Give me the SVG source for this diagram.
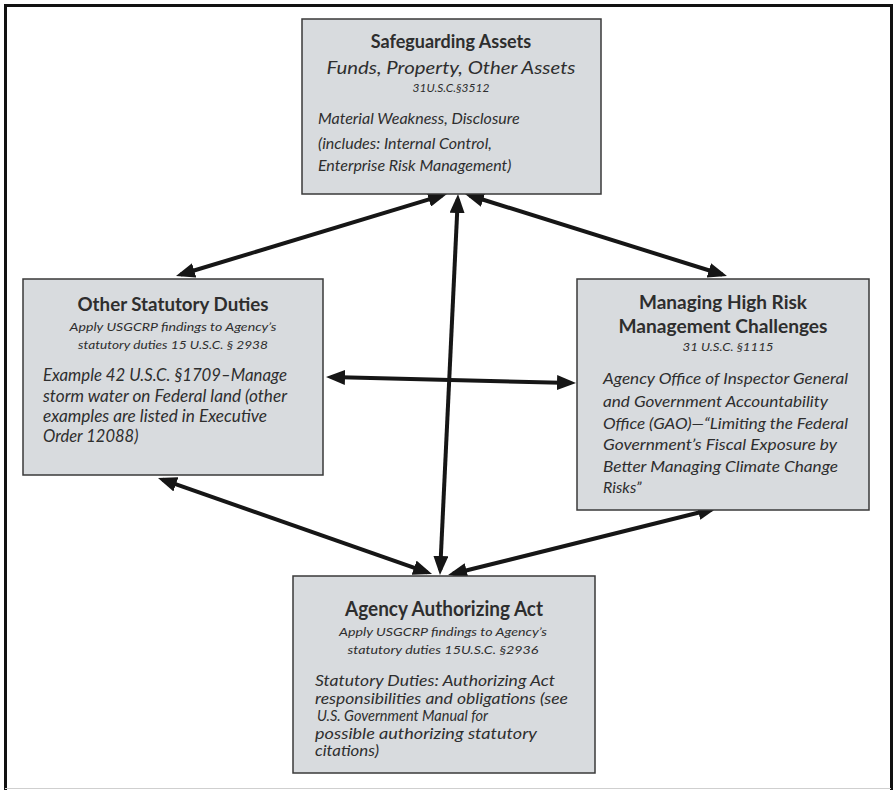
<svg xmlns="http://www.w3.org/2000/svg" width="893" height="790" viewBox="0 0 893 790">
<style>
.box{fill:#d8dbde;stroke:#3a3a3a;stroke-width:1.5}
.t{font-family:Lato,"Liberation Sans",sans-serif;fill:#2e2e2e}
.h{font-weight:bold;font-size:18px;text-anchor:middle}
.s{font-style:italic;font-size:12px;text-anchor:middle}
.b{font-style:italic;font-size:16px}
.b17{font-style:italic;font-size:16.5px}
.b15{font-style:italic;font-size:14.5px}
.sub{font-style:italic;font-size:18px;text-anchor:middle}
.a{stroke:#161616;stroke-width:4;fill:none;marker-start:url(#ah);marker-end:url(#ah)}
</style>
<defs>
<marker id="ah" markerUnits="userSpaceOnUse" markerWidth="19" markerHeight="15" refX="14" refY="7.5" orient="auto-start-reverse">
<path d="M0,0 L19,7.5 L0,15 z" fill="#161616"/>
</marker>
</defs>
<rect width="893" height="790" fill="#fff"/>
<g id="frame" fill="none">
<path d="M5.5,790 V5.5 H891.5 V790" stroke="#111" stroke-width="3"/>
<line x1="5" y1="788.5" x2="891" y2="788.5" stroke="#cfcfcf" stroke-width="1"/>
</g>
<g id="connectors">
<line class="a" x1="442.2" y1="195.4" x2="180.8" y2="274.5"/>
<line class="a" x1="469.8" y1="195.5" x2="722.2" y2="274.5"/>
<line class="a" x1="457.8" y1="199" x2="440.2" y2="570"/>
<line class="a" x1="331" y1="377.1" x2="571" y2="382.9"/>
<line class="a" x1="162.7" y1="479.7" x2="427.3" y2="572.3"/>
<line class="a" x1="452.9" y1="573.8" x2="712.1" y2="509.2"/>
</g>
<g id="safeguarding">
<rect class="box" x="302" y="19" width="299" height="175"/>
<text class="t h" x="451" y="48">Safeguarding Assets</text>
<text class="t sub" x="451" y="74" textLength="249" lengthAdjust="spacingAndGlyphs">Funds, Property, Other Assets</text>
<text class="t s" x="451" y="92">31U.S.C.§3512</text>
<text class="t b" x="318" y="124">Material Weakness, Disclosure</text>
<text class="t b" x="318" y="149">(includes: Internal Control,</text>
<text class="t b" x="318" y="171">Enterprise Risk Management)</text>
</g>
<g id="other-duties">
<rect class="box" x="23" y="279" width="300" height="196"/>
<text class="t h" x="173" y="311" textLength="191" lengthAdjust="spacingAndGlyphs">Other Statutory Duties</text>
<text class="t s" x="173" y="331" textLength="207" lengthAdjust="spacingAndGlyphs">Apply USGCRP findings to Agency’s</text>
<text class="t s" x="173" y="349" textLength="190" lengthAdjust="spacingAndGlyphs">statutory duties 15 U.S.C. § 2938</text>
<text class="t b17" x="43" y="381" textLength="244" lengthAdjust="spacingAndGlyphs">Example 42 U.S.C. §1709–Manage</text>
<text class="t b17" x="43" y="402" textLength="244" lengthAdjust="spacingAndGlyphs">storm water on Federal land (other</text>
<text class="t b17" x="43" y="422" textLength="224" lengthAdjust="spacingAndGlyphs">examples are listed in Executive</text>
<text class="t b17" x="43" y="442">Order 12088)</text>
</g>
<g id="high-risk">
<rect class="box" x="577" y="279" width="292" height="231"/>
<text class="t h" x="723" y="309" textLength="168" lengthAdjust="spacingAndGlyphs">Managing High Risk</text>
<text class="t h" x="723" y="333" textLength="209" lengthAdjust="spacingAndGlyphs">Management Challenges</text>
<text class="t s" x="728" y="351" textLength="91" lengthAdjust="spacingAndGlyphs">31 U.S.C. §1115</text>
<text class="t b" x="603" y="384" textLength="245" lengthAdjust="spacingAndGlyphs">Agency Office of Inspector General</text>
<text class="t b" x="603" y="407" textLength="225" lengthAdjust="spacingAndGlyphs">and Government Accountability</text>
<text class="t b" x="603" y="429" textLength="245" lengthAdjust="spacingAndGlyphs">Office (GAO)—“Limiting the Federal</text>
<text class="t b" x="603" y="450" textLength="234" lengthAdjust="spacingAndGlyphs">Government’s Fiscal Exposure by</text>
<text class="t b" x="603" y="472" textLength="235" lengthAdjust="spacingAndGlyphs">Better Managing Climate Change</text>
<text class="t b" x="603" y="493">Risks”</text>
</g>
<g id="authorizing-act">
<rect class="box" x="293" y="576" width="302" height="197"/>
<text class="t h" x="444" y="616" style="font-size:20px" textLength="198" lengthAdjust="spacingAndGlyphs">Agency Authorizing Act</text>
<text class="t s" x="443" y="636" textLength="208" lengthAdjust="spacingAndGlyphs">Apply USGCRP findings to Agency’s</text>
<text class="t s" x="443" y="654" textLength="191" lengthAdjust="spacingAndGlyphs">statutory duties 15U.S.C. §2936</text>
<text class="t b15" x="315" y="686" textLength="240" lengthAdjust="spacingAndGlyphs">Statutory Duties:  Authorizing Act</text>
<text class="t b15" x="315" y="703.5" textLength="253" lengthAdjust="spacingAndGlyphs">responsibilities and obligations (see</text>
<text class="t b15" x="317" y="721">U.S. Government Manual for</text>
<text class="t b15" x="315" y="738.5" textLength="222" lengthAdjust="spacingAndGlyphs">possible authorizing statutory</text>
<text class="t b15" x="315" y="756" textLength="64" lengthAdjust="spacingAndGlyphs">citations)</text>
</g>
</svg>
